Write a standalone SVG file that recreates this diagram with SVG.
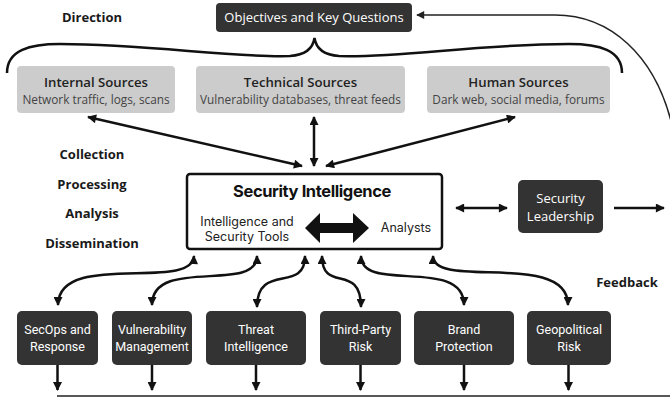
<svg xmlns="http://www.w3.org/2000/svg" width="670" height="401" viewBox="0 0 670 401">
<defs>
<style>
.lbl{font-family:"Open Sans","Noto Sans",sans-serif;font-weight:bold;font-size:13px;fill:#1a1a1a;text-anchor:middle}
.dark{fill:#333333}
.gray{fill:#cccccc}
.gt{font-family:"Open Sans","Noto Sans",sans-serif;font-weight:600;font-size:13.2px;fill:#222;text-anchor:middle}
.gs{font-family:"Open Sans","Noto Sans",sans-serif;font-size:11.8px;fill:#444;text-anchor:middle}
.wt{font-family:"Open Sans","Noto Sans",sans-serif;font-size:13px;fill:#fff;text-anchor:middle}
.bt{font-family:Roboto,"Liberation Sans",sans-serif;font-size:12.5px;fill:#fff;text-anchor:middle}
.it{font-family:Inter,Roboto,sans-serif;font-size:12.5px;fill:#222;text-anchor:middle}
.c{fill:none;stroke:#111;stroke-width:2.5}
.thin{fill:none;stroke:#222;stroke-width:1.5}
</style>
<marker id="ah" viewBox="0 0 10 10" refX="9" refY="5" markerWidth="10" markerHeight="9" markerUnits="userSpaceOnUse" orient="auto-start-reverse"><path d="M0,0 L10,5 L0,10 Z" fill="#111"/></marker>
<marker id="ah2" viewBox="0 0 10 10" refX="9" refY="5" markerWidth="10" markerHeight="8" markerUnits="userSpaceOnUse" orient="auto-start-reverse"><path d="M0,0 L10,5 L0,10 Z" fill="#222"/></marker>
</defs>
<rect width="670" height="401" fill="#fff"/>

<g id="labels">
<text class="lbl" x="92" y="22">Direction</text>
<text class="lbl" x="92" y="159">Collection</text>
<text class="lbl" x="92" y="189">Processing</text>
<text class="lbl" x="92" y="218">Analysis</text>
<text class="lbl" x="92" y="248">Dissemination</text>
<text class="lbl" x="627" y="287">Feedback</text>
</g>

<g id="connectors">
<path class="c" d="M7,73 C7,50 30,44 60,44 C150,44 230,58 290,56 C305,55 313,48 314.5,38 C316,48 324,55 339,56 C399,58 479,44 569,44 C599,44 622,50 622,73"/>
<path class="thin" d="M57,396 L670,396 C700,396 720,300 690,200 L672,125 C655,55 610,15 555,15 L417,15" marker-end="url(#ah2)"/>
<line class="c" x1="302" y1="166" x2="88" y2="117" marker-start="url(#ah)" marker-end="url(#ah)"/>
<line class="c" x1="314" y1="166" x2="314" y2="117" marker-start="url(#ah)" marker-end="url(#ah)"/>
<line class="c" x1="326" y1="166" x2="515" y2="117" marker-start="url(#ah)" marker-end="url(#ah)"/>
<line class="c" x1="456" y1="208" x2="507" y2="208" marker-start="url(#ah)" marker-end="url(#ah)"/>
<line class="c" x1="614" y1="208" x2="664" y2="208" marker-end="url(#ah)"/>
<path class="c" d="M194,256 C192,292 58,250 58,305" marker-start="url(#ah)" marker-end="url(#ah)"/>
<path class="c" d="M257,256 C257,294 152,256 152,305" marker-start="url(#ah)" marker-end="url(#ah)"/>
<path class="c" d="M305,256 C305,294 257,262 257,307" marker-start="url(#ah)" marker-end="url(#ah)"/>
<path class="c" d="M322,256 C322,294 361,262 361,307" marker-start="url(#ah)" marker-end="url(#ah)"/>
<path class="c" d="M361,256 C361,294 464,256 464,305" marker-start="url(#ah)" marker-end="url(#ah)"/>
<path class="c" d="M433,256 C433,290 568,250 568,305" marker-start="url(#ah)" marker-end="url(#ah)"/>
<line class="c" x1="57.5" y1="365" x2="57.5" y2="390" marker-end="url(#ah)"/>
<line class="c" x1="152" y1="365" x2="152" y2="390" marker-end="url(#ah)"/>
<line class="c" x1="256" y1="365" x2="256" y2="390" marker-end="url(#ah)"/>
<line class="c" x1="360.5" y1="365" x2="360.5" y2="390" marker-end="url(#ah)"/>
<line class="c" x1="464" y1="365" x2="464" y2="390" marker-end="url(#ah)"/>
<line class="c" x1="568.5" y1="365" x2="568.5" y2="390" marker-end="url(#ah)"/>
</g>

<g id="objectives">
<rect class="dark" x="216" y="3" width="196" height="29" rx="4"/>
<text class="wt" x="314" y="22">Objectives and Key Questions</text>
</g>

<g id="internal">
<rect class="gray" x="17" y="66" width="158" height="47" rx="4"/>
<text class="gt" x="96" y="87">Internal Sources</text>
<text class="gs" x="96" y="104">Network traffic, logs, scans</text>
</g>
<g id="technical">
<rect class="gray" x="196" y="66" width="209" height="47" rx="4"/>
<text class="gt" x="300.5" y="87">Technical Sources</text>
<text class="gs" x="300.5" y="104">Vulnerability databases, threat feeds</text>
</g>
<g id="human">
<rect class="gray" x="427" y="66" width="183" height="47" rx="4"/>
<text class="gt" x="518.5" y="87">Human Sources</text>
<text class="gs" x="518.5" y="104">Dark web, social media, forums</text>
</g>

<g id="security-intelligence">
<rect x="187" y="174" width="255" height="75" rx="3" fill="#fff" stroke="#111" stroke-width="2.5"/>
<text x="312" y="197" font-family="Inter,Roboto,sans-serif" font-weight="bold" font-size="16.5" fill="#111" text-anchor="middle" letter-spacing="-0.4">Security Intelligence</text>
<text class="it" x="247" y="226">Intelligence and</text>
<text class="it" x="247" y="241">Security Tools</text>
<text class="it" x="406" y="232">Analysts</text>
<path d="M305,228 L320,213 L320,223 L353,223 L353,213 L369,228 L353,243 L353,233 L320,233 L320,243 Z" fill="#111"/>
</g>

<g id="leadership">
<rect class="dark" x="518" y="180" width="85" height="53" rx="5"/>
<text class="wt" x="560.5" y="203">Security</text>
<text class="wt" x="560.5" y="221">Leadership</text>
</g>

<g id="secops"><rect class="dark" x="17" y="311" width="81" height="54" rx="5"/><text class="bt" x="57.5" y="334">SecOps and</text><text class="bt" x="57.5" y="351">Response</text></g>
<g id="vuln"><rect class="dark" x="112" y="311" width="80" height="54" rx="5"/><text class="bt" x="152" y="334">Vulnerability</text><text class="bt" x="152" y="351">Management</text></g>
<g id="threat"><rect class="dark" x="206" y="311" width="100" height="54" rx="5"/><text class="bt" x="256" y="334">Threat</text><text class="bt" x="256" y="351">Intelligence</text></g>
<g id="thirdparty"><rect class="dark" x="320" y="311" width="81" height="54" rx="5"/><text class="bt" x="360.5" y="334">Third-Party</text><text class="bt" x="360.5" y="351">Risk</text></g>
<g id="brand"><rect class="dark" x="414" y="311" width="100" height="54" rx="5"/><text class="bt" x="464" y="334">Brand</text><text class="bt" x="464" y="351">Protection</text></g>
<g id="geo"><rect class="dark" x="527" y="311" width="84" height="54" rx="5"/><text class="bt" x="569" y="334">Geopolitical</text><text class="bt" x="569" y="351">Risk</text></g>
</svg>
